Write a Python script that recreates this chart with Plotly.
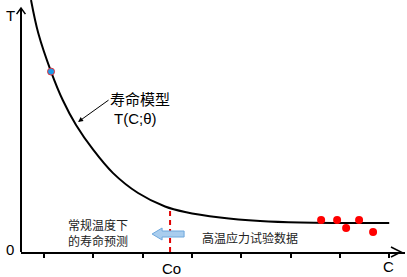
import plotly.graph_objects as go

# Life-model curve T(C;θ)
curve_x = [0.736, 0.884, 1.142, 1.379, 1.649, 2.000, 2.400, 2.907, 3.454, 3.860,
           4.570, 5.381, 6.193, 8.0]
curve_y = [10.0, 8.68, 7.16, 6.03, 5.04, 4.05, 3.13, 2.34, 1.806, 1.587,
           1.369, 1.23, 1.17, 1.15]

# High-temperature test data (red points)
test_x = [6.619, 6.943, 7.126, 7.389, 7.673]
test_y = [1.27, 1.27, 0.95, 1.27, 0.79]

# Blue point on the curve
pred_x = [1.142]
pred_y = [7.16]

# Normal-use stress level Co
co_x = 3.556
co_top = 1.75

tick_vals = [1, 2, 3, 4, 5, 6, 7, 8]

FONT = "Liberation Sans, Arial, Noto Sans CJK SC, sans-serif"
CJK = "Noto Sans CJK SC, Liberation Sans, sans-serif"

fig = go.Figure()
fig.add_trace(go.Scatter(x=curve_x, y=curve_y, mode="lines",
                         line=dict(color="black", width=2, shape="spline", smoothing=1.0),
                         hoverinfo="skip"))
fig.add_trace(go.Scatter(x=test_x, y=test_y, mode="markers",
                         marker=dict(color="#FF0000", size=8, line=dict(width=0))))
fig.add_trace(go.Scatter(x=pred_x, y=pred_y, mode="markers",
                         marker=dict(color="#1E9BE8", size=7, line=dict(color="#E0303A", width=1))))

# blue block arrow (pointing left)
fig.add_shape(type="path",
              path="M 3.191 0.714 L 3.394 0.952 L 3.394 0.833 L 3.840 0.833 L 3.840 0.595 L 3.394 0.595 L 3.394 0.476 Z",
              xref="x", yref="y", fillcolor="#A9CDEE", line=dict(color="#6FA8DC", width=1), layer="above")

fig.add_trace(go.Scatter(x=[co_x, co_x], y=[0, co_top], mode="lines",
                         line=dict(color="#E00000", width=2, dash="5px,4px"), hoverinfo="skip"))

# y axis line and arrow heads (paper coords)
fig.add_shape(type="line", xref="paper", yref="paper", x0=0, x1=0, y0=0, y1=0.968,
              line=dict(color="black", width=2))
fig.add_shape(type="path", xref="paper", yref="paper",
              path="M -0.0115 0.944 L 0 0.968 L 0.0115 0.944", line=dict(color="black", width=1.5))
fig.add_shape(type="path", xref="paper", yref="paper",
              path="M 0.9635 0.0198 L 0.9896 0 L 0.9635 -0.0198", line=dict(color="black", width=1.5))

anns = [
    dict(x=2.947, y=6.11, text="寿命模型", font=dict(size=15, family=CJK, color="black")),
    dict(x=2.846, y=5.28, text="T(C;θ)", font=dict(size=15, family=FONT, color="black")),
    dict(x=2.095, y=1.11, text="常规温度下", font=dict(size=12, family=CJK, color="#222")),
    dict(x=2.095, y=0.44, text="的寿命预测", font=dict(size=12, family=CJK, color="#222")),
    dict(x=5.178, y=0.595, text="高温应力试验数据", font=dict(size=12, family=CJK, color="#222")),
]
for a in anns:
    fig.add_annotation(xref="x", yref="y", showarrow=False, xanchor="center", yanchor="middle", **a)

paper_anns = [
    dict(x=-0.0286, y=0.937, text="T"),
    dict(x=-0.0286, y=0.008, text="0"),
    dict(x=0.393, y=-0.0635, text="Co"),
    dict(x=0.956, y=-0.0595, text="C"),
]
for a in paper_anns:
    fig.add_annotation(xref="paper", yref="paper", showarrow=False, xanchor="center", yanchor="middle",
                       font=dict(size=15, family=FONT, color="black"), **a)

fig.add_annotation(x=1.69, y=5.16, ax=2.339, ay=6.07, xref="x", yref="y", axref="x", ayref="y",
                   text="", showarrow=True, arrowhead=2, arrowsize=1, arrowwidth=1, arrowcolor="black")

fig.update_layout(
    width=407, height=277, margin=dict(l=21, r=2, t=0, b=25),
    paper_bgcolor="white", plot_bgcolor="white", showlegend=False,
    xaxis=dict(range=[0.533, 8.32], tickvals=tick_vals, ticks="outside", ticklen=4, tickwidth=1.5,
               tickcolor="black", showticklabels=False, showgrid=False, zeroline=False,
               showline=True, linecolor="black", linewidth=2, fixedrange=True),
    yaxis=dict(range=[0, 10], showticklabels=False, showgrid=False, zeroline=False,
               showline=False, fixedrange=True),
)

fig.write_html("out.html", config={"displayModeBar": False},
               post_script="document.body.style.margin='0';document.body.style.overflow='hidden';")
